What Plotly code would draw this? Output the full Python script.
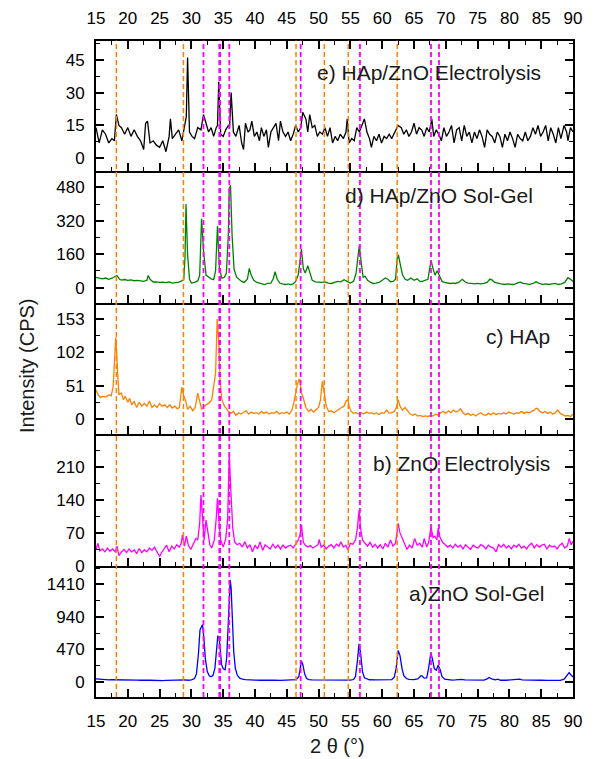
import plotly.graph_objects as go

# ---------------- data (2theta, CPS) ----------------
e_pts = [(15.0,14),(15.5,7),(16.0,13),(16.5,11),(17.0,7),(17.5,9),(17.9,8),(18.2,20),(18.6,15),(19.0,14),(19.5,11),(20.0,14),(20.5,10),(21.0,13),(21.5,10),(22.0,8),(22.5,4),(22.8,16),(23.1,17),(23.5,7),(24.0,8),(24.5,6),(25.0,5),(25.5,8),(26.0,3),(26.5,10),(26.7,18),(27.0,9),(27.5,11),(28.0,13),(28.5,8),(29.0,16),(29.2,19),(29.4,46),(29.7,12),(30.1,10),(30.5,9),(31.0,14),(31.5,13),(31.9,20),(32.3,16),(32.7,12),(33.1,14),(33.5,10),(33.9,14),(34.1,15),(34.3,35),(34.6,11),(35.0,10),(35.4,13),(35.8,15),(36.0,14),(36.25,30),(36.6,12),(37.0,10),(37.5,15),(37.9,7),(38.2,4),(38.5,16),(38.9,12),(39.2,13),(39.5,17),(39.9,10),(40.3,12),(40.7,8),(41.0,14),(41.4,10),(41.8,13),(42.1,5),(42.5,12),(42.9,14),(43.3,16),(43.7,8),(44.0,17),(44.4,12),(44.8,10),(45.2,12),(45.6,8),(46.0,11),(46.4,15),(46.8,12),(47.2,14),(47.5,21),(48.0,18),(48.3,12),(48.6,20),(49.0,14),(49.4,15),(49.8,10),(50.2,12),(50.6,11),(51.0,14),(51.4,10),(51.8,14),(52.2,7),(52.6,10),(53.0,8),(53.4,11),(53.9,9),(54.3,12),(54.5,18),(54.8,7),(55.2,9),(55.6,8),(56.0,14),(56.4,12),(56.8,15),(57.2,18),(57.6,12),(58.0,9),(58.3,5),(58.7,10),(59.1,8),(59.5,11),(59.9,7),(60.3,10),(60.7,9),(61.1,11),(61.5,9),(62.0,12),(62.5,15),(63.0,14),(63.4,11),(63.8,13),(64.2,10),(64.6,12),(65.0,16),(65.4,11),(65.8,14),(66.2,13),(66.6,10),(67.0,14),(67.4,12),(67.8,18),(68.1,10),(68.5,13),(68.9,11),(69.3,8),(69.7,14),(70.1,10),(70.5,12),(70.9,15),(71.3,7),(71.7,13),(72.1,14),(72.5,8),(72.9,15),(73.3,10),(73.7,12),(74.1,7),(74.5,12),(74.9,9),(75.3,13),(75.7,10),(76.1,5),(76.5,13),(76.9,11),(77.3,10),(77.7,7),(78.1,12),(78.5,10),(78.9,5),(79.3,11),(79.7,8),(80.1,12),(80.5,9),(80.9,5),(81.3,11),(81.7,9),(82.1,8),(82.5,12),(82.9,8),(83.3,10),(83.7,14),(84.1,11),(84.5,15),(84.9,10),(85.3,12),(85.7,15),(86.1,8),(86.5,14),(86.9,11),(87.3,7),(87.7,14),(88.1,9),(88.6,15),(89.0,12),(89.2,8),(89.6,14),(90.0,12)]

d_pts = [(15.0,49),(15.5,44),(16.0,42),(16.5,46),(17.0,40),(17.5,45),(18.0,52),(18.3,58),(18.7,40),(19.0,36),(19.5,39),(20.0,35),(20.5,37),(21.0,33),(21.5,35),(22.0,32),(22.5,30),(23.0,35),(23.2,58),(23.5,40),(24.0,27),(24.5,28),(25.0,25),(25.5,26),(26.0,24),(26.5,27),(27.0,22),(27.5,24),(28.0,26),(28.5,32),(28.8,38),(29.0,150),(29.15,400),(29.4,160),(29.7,40),(30.0,22),(30.5,25),(31.0,32),(31.3,60),(31.6,330),(31.9,180),(32.3,60),(32.7,50),(33.1,42),(33.5,38),(33.8,80),(34.1,295),(34.4,90),(34.8,45),(35.2,50),(35.5,70),(35.8,250),(35.95,470),(36.15,490),(36.4,250),(36.7,90),(37.1,50),(37.5,38),(37.9,30),(38.3,25),(38.8,40),(39.1,92),(39.4,60),(39.8,35),(40.3,25),(40.7,22),(41.1,18),(41.5,15),(42.0,20),(42.5,22),(42.9,45),(43.15,76),(43.5,40),(43.9,22),(44.3,18),(44.8,15),(45.2,18),(45.6,15),(46.0,18),(46.4,30),(46.8,60),(47.1,130),(47.3,184),(47.6,90),(47.9,70),(48.3,105),(48.6,70),(49.0,35),(49.5,28),(50.0,26),(50.5,25),(51.0,28),(51.5,22),(52.0,20),(52.5,25),(53.0,30),(53.5,28),(54.0,38),(54.5,30),(55.0,22),(55.5,30),(55.9,70),(56.2,150),(56.4,203),(56.7,120),(57.0,50),(57.3,55),(57.7,35),(58.2,25),(58.6,20),(59.0,22),(59.5,25),(60.0,35),(60.5,46),(60.9,40),(61.3,28),(61.7,30),(62.1,40),(62.35,140),(62.55,156),(62.85,110),(63.2,60),(63.6,40),(64.0,35),(64.5,46),(65.0,35),(65.5,42),(65.9,30),(66.3,30),(66.7,35),(67.2,40),(67.45,90),(67.7,128),(68.0,90),(68.3,60),(68.65,81),(69.0,55),(69.4,30),(69.8,25),(70.3,22),(70.7,20),(71.1,22),(71.5,20),(72.0,25),(72.6,40),(73.0,28),(73.5,22),(74.0,20),(74.5,18),(75.0,20),(75.5,18),(76.0,20),(76.5,25),(76.9,40),(77.2,38),(77.7,25),(78.2,20),(78.7,18),(79.2,15),(79.7,18),(80.2,16),(80.7,15),(81.2,22),(81.7,26),(82.2,20),(82.7,18),(83.2,16),(83.7,20),(84.2,28),(84.7,20),(85.2,16),(85.7,18),(86.2,15),(86.7,18),(87.2,20),(87.7,15),(88.2,18),(88.7,25),(89.2,48),(89.6,40),(90.0,30)]

c_pts = [(15.0,45),(15.3,38),(15.7,33),(16.0,35),(16.5,34),(17.0,37),(17.4,36),(17.7,50),(18.1,125),(18.4,60),(18.6,38),(19.0,40),(19.3,30),(19.6,35),(20.0,26),(20.3,32),(20.6,22),(21.0,27),(21.4,18),(21.8,26),(22.2,20),(22.6,24),(23.0,20),(23.4,28),(23.8,18),(24.2,22),(24.6,18),(25.0,24),(25.4,20),(25.8,22),(26.2,18),(26.6,22),(27.0,17),(27.4,20),(27.8,16),(28.1,18),(28.3,35),(28.5,49),(28.8,35),(29.1,28),(29.4,15),(29.8,20),(30.2,13),(30.6,18),(31.0,40),(31.3,25),(31.6,15),(32.0,20),(32.4,22),(32.8,25),(33.2,30),(33.5,47),(33.8,70),(34.05,153),(34.3,120),(34.5,60),(34.8,30),(35.1,22),(35.4,18),(35.8,12),(36.2,9),(36.6,12),(37.0,6),(37.4,10),(37.8,8),(38.2,10),(38.6,13),(39.0,8),(39.4,11),(39.8,9),(40.2,10),(40.6,8),(41.0,12),(41.4,9),(41.8,11),(42.2,8),(42.6,10),(43.0,9),(43.4,12),(43.8,8),(44.2,10),(44.6,9),(45.0,11),(45.4,8),(45.8,14),(46.1,25),(46.4,42),(46.7,55),(47.0,62),(47.3,40),(47.6,32),(48.0,18),(48.4,12),(48.8,15),(49.2,11),(49.6,15),(50.0,18),(50.3,30),(50.6,58),(50.9,40),(51.2,20),(51.6,12),(52.0,13),(52.4,10),(52.8,13),(53.2,16),(53.6,18),(54.0,20),(54.3,28),(54.6,30),(54.8,20),(55.1,12),(55.5,9),(55.9,10),(56.3,8),(56.7,10),(57.1,8),(57.5,11),(57.9,9),(58.3,10),(58.7,8),(59.1,10),(59.5,7),(59.9,10),(60.3,9),(60.7,14),(61.1,9),(61.5,10),(61.9,12),(62.3,20),(62.5,30),(62.8,20),(63.2,14),(63.6,18),(64.0,12),(64.4,8),(64.8,6),(65.2,8),(65.6,5),(66.0,6),(66.4,4),(66.8,5),(67.2,4),(67.6,6),(68.0,5),(68.4,8),(68.8,6),(69.2,10),(69.6,12),(70.0,9),(70.4,13),(70.8,10),(71.2,14),(71.6,11),(72.0,13),(72.3,16),(72.7,10),(73.1,7),(73.5,9),(73.9,6),(74.3,8),(74.7,5),(75.1,8),(75.5,10),(75.9,7),(76.3,6),(76.7,9),(77.1,7),(77.5,10),(77.9,7),(78.3,9),(78.7,8),(79.1,10),(79.5,8),(79.9,11),(80.3,9),(80.7,8),(81.1,10),(81.5,9),(81.9,12),(82.3,9),(82.7,11),(83.1,10),(83.5,12),(83.9,14),(84.2,17),(84.5,16),(84.8,12),(85.2,10),(85.6,12),(86.0,9),(86.4,11),(86.8,8),(87.2,10),(87.6,14),(88.0,9),(88.4,7),(88.8,5),(89.2,6),(89.6,4),(90.0,8)]

b_pts = [(15.0,35),(15.3,48),(15.6,32),(16.0,36),(16.4,30),(16.8,38),(17.2,31),(17.6,36),(18.0,30),(18.3,42),(18.6,22),(19.0,30),(19.4,35),(19.8,28),(20.2,36),(20.6,30),(21.0,34),(21.4,26),(21.8,37),(22.2,28),(22.6,34),(23.0,30),(23.4,38),(23.8,33),(24.2,40),(24.6,30),(25.0,20),(25.3,28),(25.7,35),(26.1,44),(26.5,30),(26.9,42),(27.3,36),(27.7,45),(28.1,40),(28.4,48),(28.6,66),(28.9,42),(29.2,63),(29.5,45),(29.9,35),(30.3,48),(30.7,58),(31.0,55),(31.3,90),(31.5,150),(31.8,90),(32.0,55),(32.3,97),(32.6,70),(32.9,45),(33.2,38),(33.6,55),(33.9,100),(34.1,143),(34.3,100),(34.6,55),(35.0,40),(35.4,58),(35.7,100),(35.95,235),(36.2,160),(36.5,80),(36.8,51),(37.2,45),(37.6,48),(38.0,40),(38.4,51),(38.8,38),(39.2,45),(39.6,30),(40.0,44),(40.4,36),(40.8,51),(41.2,33),(41.6,45),(42.0,40),(42.4,36),(42.8,46),(43.2,38),(43.6,44),(44.0,36),(44.4,44),(44.8,38),(45.2,42),(45.6,44),(46.0,38),(46.4,48),(46.8,55),(47.1,66),(47.3,87),(47.6,50),(47.9,44),(48.3,40),(48.7,43),(49.1,38),(49.5,42),(49.9,45),(50.1,56),(50.4,40),(50.8,44),(51.2,36),(51.6,42),(52.0,45),(52.4,38),(52.8,46),(53.2,42),(53.5,51),(53.9,40),(54.3,44),(54.6,34),(55.0,48),(55.4,46),(55.8,55),(56.1,80),(56.35,117),(56.6,80),(56.9,55),(57.3,48),(57.7,42),(58.1,50),(58.5,40),(58.9,46),(59.3,38),(59.7,45),(60.1,36),(60.5,48),(60.9,40),(61.3,55),(61.7,42),(62.1,48),(62.5,90),(62.8,70),(63.1,60),(63.5,48),(63.9,35),(64.3,44),(64.7,38),(65.1,58),(65.5,44),(65.9,48),(66.3,40),(66.6,58),(67.0,40),(67.3,50),(67.67,82),(68.0,60),(68.3,63),(68.6,55),(68.8,80),(69.1,60),(69.5,50),(69.9,45),(70.3,40),(70.7,44),(71.1,38),(71.5,46),(71.9,40),(72.3,44),(72.7,36),(73.1,45),(73.5,40),(73.9,35),(74.3,44),(74.7,40),(75.1,38),(75.5,45),(75.9,42),(76.3,36),(76.7,44),(77.1,40),(77.5,38),(77.9,30),(78.3,45),(78.7,40),(79.1,46),(79.5,38),(79.9,43),(80.3,36),(80.7,44),(81.1,40),(81.5,46),(81.9,38),(82.3,42),(82.7,36),(83.1,44),(83.5,48),(83.9,38),(84.3,45),(84.7,40),(85.1,44),(85.5,46),(85.9,36),(86.3,44),(86.7,40),(87.1,42),(87.5,36),(87.9,44),(88.3,48),(88.7,38),(89.1,42),(89.4,58),(89.7,45),(90.0,52)]

a_pts = [(15.0,45),(15.5,40),(16.0,35),(16.5,35),(17.0,30),(17.5,32),(18.0,30),(18.5,28),(19.0,30),(19.5,26),(20.0,25),(20.5,28),(21.0,24),(21.5,26),(22.0,25),(22.5,30),(23.0,27),(23.5,25),(24.0,22),(24.5,25),(25.0,22),(25.5,20),(26.0,22),(26.5,25),(27.0,22),(27.5,24),(28.0,26),(28.5,28),(29.0,30),(29.5,25),(30.0,30),(30.5,50),(30.8,120),(31.1,400),(31.35,750),(31.55,790),(31.75,830),(31.95,650),(32.2,330),(32.5,150),(32.8,90),(33.1,75),(33.4,95),(33.7,200),(33.95,450),(34.15,660),(34.35,650),(34.55,430),(34.75,250),(35.0,190),(35.3,175),(35.55,350),(35.75,800),(35.95,1350),(36.1,1470),(36.25,1350),(36.45,950),(36.65,450),(36.9,200),(37.2,100),(37.6,55),(38.0,40),(38.5,35),(39.0,30),(39.5,30),(40.0,28),(41.0,25),(42.0,28),(43.0,25),(44.0,22),(45.0,25),(45.5,28),(46.0,25),(46.5,35),(46.9,80),(47.1,200),(47.3,300),(47.5,260),(47.8,120),(48.1,50),(48.5,35),(49.0,30),(50.0,28),(51.0,25),(52.0,26),(53.0,25),(54.0,28),(55.0,26),(55.5,35),(55.8,80),(56.1,300),(56.35,550),(56.6,420),(56.9,150),(57.2,60),(57.6,40),(58.0,32),(59.0,30),(60.0,28),(61.0,30),(61.5,35),(61.9,70),(62.2,200),(62.5,455),(62.8,380),(63.1,200),(63.4,90),(63.8,50),(64.2,38),(65.0,35),(65.6,45),(66.1,90),(66.3,85),(66.6,55),(67.0,60),(67.3,200),(67.65,420),(67.9,330),(68.2,190),(68.5,170),(68.8,240),(69.1,180),(69.4,80),(69.8,40),(70.5,30),(71.0,28),(71.5,30),(72.0,40),(72.4,38),(73.0,30),(74.0,28),(75.0,25),(76.0,28),(76.5,45),(76.8,65),(77.2,45),(77.8,30),(78.2,40),(78.6,25),(79.5,25),(80.5,28),(81.2,40),(81.6,42),(82.0,30),(83.0,25),(84.0,22),(85.0,25),(86.0,22),(87.0,24),(88.0,22),(88.6,40),(89.0,90),(89.4,135),(89.7,100),(90.0,70)]

panel_labels = ["a)ZnO Sol-Gel", "b) ZnO Electrolysis", "c) HAp", "d) HAp/ZnO Sol-Gel", "e) HAp/ZnO Electrolysis"]
panel_colors = ["#0000FF", "#FF00FF", "#FF8000", "#008000", "#000000"]
y_ticks = [[0, 470, 940, 1410], [0, 70, 140, 210], [0, 51, 102, 153], [0, 160, 320, 480], [0, 15, 30, 45]]
y_ranges = [[-217, 1674], [0, 279], [-22.5, 178], [-72, 558], [-5.8, 53.8]]
hap_lines = [18.2, 28.75, 46.45, 50.9, 54.67, 62.36]          # orange dashed
zno_lines = [31.9, 34.45, 35.96, 47.18, 56.5, 67.67, 68.93]    # magenta dashed
x_ticks = [15, 20, 25, 30, 35, 40, 45, 50, 55, 60, 65, 70, 75, 80, 85, 90]

series = [a_pts, b_pts, c_pts, d_pts, e_pts]

# ---------------- layout geometry ----------------
W, H = 594, 759
x_dom = [96 / W, 573 / W]
edges_px = [697, 566, 434, 302.7, 171, 40.5]   # panel boundaries, bottom->top
FONT = "Liberation Sans, Arial, sans-serif"

fig = go.Figure()
for i, pts in enumerate(series):
    xs = [p[0] for p in pts]
    ys = [p[1] for p in pts]
    sfx = "" if i == 0 else str(i + 1)
    fig.add_trace(go.Scatter(x=xs, y=ys, mode="lines", xaxis="x" + sfx, yaxis="y" + sfx,
                             line=dict(color=panel_colors[i], width=1.3), showlegend=False,
                             hoverinfo="skip"))

layout = dict(width=W, height=H, margin=dict(l=0, r=0, t=0, b=0, pad=0),
              paper_bgcolor="white", plot_bgcolor="white", showlegend=False,
              font=dict(family=FONT, color="black"))

for i in range(5):
    sfx = "" if i == 0 else str(i + 1)
    ydom = [1 - edges_px[i] / H, 1 - edges_px[i + 1] / H]
    xa = dict(domain=x_dom, range=[15, 90], anchor="y" + sfx, automargin=False,
              showline=True, linecolor="black", linewidth=2, mirror=False,
              ticks="inside", tickvals=x_ticks, ticklen=8, tickwidth=1.5, tickcolor="black",
              minor=dict(ticks="inside", ticklen=4, tickwidth=1.2, tickcolor="black", dtick=2.5, tick0=15),
              showgrid=False, zeroline=False, showticklabels=False,
              tickfont=dict(size=17, family=FONT, color="black"), ticklabelstandoff=8)
    if i == 0:
        xa["showticklabels"] = True
    if i == 4:
        xa["showticklabels"] = True
        xa["side"] = "top"
        xa["mirror"] = "ticks"
    yt = y_ticks[i]
    ya = dict(domain=ydom, range=y_ranges[i], anchor="x" + sfx, automargin=False,
              showline=True, linecolor="black", linewidth=2, mirror="ticks",
              ticks="inside", tickvals=yt, ticktext=[str(v) for v in yt],
              ticklen=8, tickwidth=1.5, tickcolor="black",
              minor=dict(ticks="inside", ticklen=4, tickwidth=1.2, tickcolor="black",
                         dtick=yt[1] / 2, tick0=0),
              showgrid=False, zeroline=False,
              tickfont=dict(size=17, family=FONT, color="black"), ticklabelstandoff=6)
    layout["xaxis" + sfx] = xa
    layout["yaxis" + sfx] = ya

fig.update_layout(**layout)

# vertical reference lines
ybot, ytop = 1 - edges_px[0] / H, 1 - edges_px[-1] / H
for xv in hap_lines:
    fig.add_shape(type="line", xref="x", yref="paper", x0=xv, x1=xv, y0=ybot, y1=ytop,
                  line=dict(color="#FF8000", width=1.5, dash="5px,3px"))
for xv in zno_lines:
    fig.add_shape(type="line", xref="x", yref="paper", x0=xv, x1=xv, y0=ybot, y1=ytop,
                  line=dict(color="#FF00FF", width=2.6 if abs(xv - 34.45) < 0.01 else 1.8,
                            dash="5px,3px"))

# panel labels (right edge px, centre y px)
label_pos = [(546, 593), (552, 464), (552, 336), (535, 195), (543, 72.5)]
for txt, (px, py) in zip(panel_labels, label_pos):
    fig.add_annotation(text=txt, x=px / W, y=1 - py / H, xref="paper", yref="paper",
                       xanchor="right", yanchor="middle", showarrow=False,
                       font=dict(size=21, family=FONT, color="#1a1a1a"))

fig.add_annotation(text="Intensity (CPS)", x=27 / W, y=1 - 366 / H, xref="paper", yref="paper",
                   textangle=-90, showarrow=False, xanchor="center", yanchor="middle",
                   font=dict(size=20, family=FONT, color="#1a1a1a"))
fig.add_annotation(text="2 θ (°)", x=337 / W, y=1 - 746 / H, xref="paper", yref="paper",
                   showarrow=False, xanchor="center", yanchor="middle",
                   font=dict(size=20, family=FONT, color="#1a1a1a"))

fig.write_html("out.html")
